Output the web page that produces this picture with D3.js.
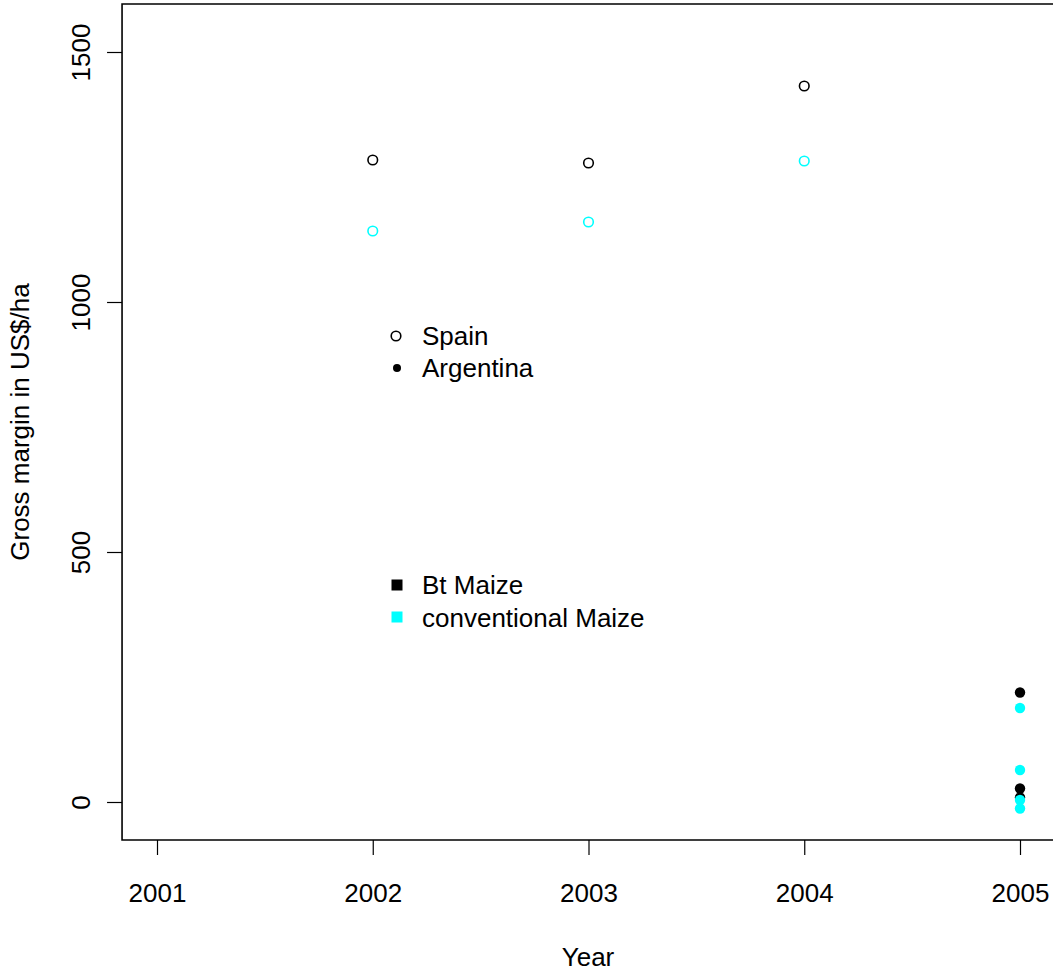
<!DOCTYPE html>
<html><head><meta charset="utf-8">
<script src="https://cdn.jsdelivr.net/npm/d3@7"></script>
<style>body{margin:0;background:#fff}svg{display:block}text{font-family:"Liberation Sans",Arial,sans-serif}</style>
</head><body><svg id="c" width="1053" height="972"></svg>
<script>
const years = [2001, 2002, 2003, 2004, 2005];
const yTicks = [0, 500, 1000, 1500];
// Spain (open circles)
const spainYears = [2002, 2003, 2004];
const spainBt = [1284, 1278, 1432];
const spainConv = [1142, 1160, 1282];
// Argentina (filled dots), all in 2005
const argYear = 2005;
const argBt = [219, 27, 9];
const argConv = [188, 64, 4, -13];
const legendCountries = ["Spain", "Argentina"];
const legendVarieties = ["Bt Maize", "conventional Maize"];
const colBt = "#000000", colConv = "#00FFFF";

const svg = d3.select("#c");
const x = d3.scaleLinear().domain([2001, 2005]).range([157, 1020]);
const xMin = 2000.838, xMax = 2005.2;
const y = d3.scaleLinear().domain([-76, 1596]).range([840, 4]);
const fs = "26px";

// box (right side falls outside the picture)
svg.append("path")
  .attr("d", `M${x(xMax)},${y.range()[1]}H${x(xMin)}V${y.range()[0]}H${x(xMax)}`)
  .attr("fill", "none").attr("stroke", "#000").attr("stroke-width", 1.6);

// x axis
const xa = svg.append("g").attr("transform", `translate(0,${y.range()[0]})`)
  .call(d3.axisBottom(x).tickValues(years).tickFormat(d3.format("d")).tickSize(15).tickPadding(29));
xa.select(".domain").remove();
xa.selectAll("line").attr("stroke", "#000").attr("stroke-width", 1.2);
xa.selectAll("text").attr("font-size", fs).attr("fill", "#000").attr("font-family", '"Liberation Sans",Arial,sans-serif');

// y axis
const ya = svg.append("g").attr("transform", `translate(${x(xMin)},0)`)
  .call(d3.axisLeft(y).tickValues(yTicks).tickSize(15).tickFormat(d3.format("d")));
ya.select(".domain").remove();
ya.selectAll("line").attr("stroke", "#000").attr("stroke-width", 1.2);
ya.selectAll("text").remove();
ya.selectAll(".tick").append("text")
  .attr("transform", "translate(-32,0) rotate(-90)")
  .attr("text-anchor", "middle").attr("font-size", fs).attr("fill", "#000")
  .attr("font-family", '"Liberation Sans",Arial,sans-serif')
  .text(d => d);

// axis titles
svg.append("text").attr("x", 588).attr("y", 966).attr("text-anchor", "middle")
  .attr("font-size", fs).text("Year");
svg.append("text").attr("transform", "translate(29,422) rotate(-90)").attr("text-anchor", "middle")
  .attr("font-size", fs).text("Gross margin in US$/ha");

// Spain points
const spain = [];
spainYears.forEach((yr, i) => {
  spain.push({yr, v: spainBt[i], c: colBt});
  spain.push({yr, v: spainConv[i], c: colConv});
});
svg.append("g").selectAll("circle").data(spain).join("circle")
  .attr("cx", d => x(d.yr)).attr("cy", d => y(d.v)).attr("r", 4.8)
  .attr("fill", "none").attr("stroke", d => d.c).attr("stroke-width", 1.6);

// Argentina points
const arg = argBt.map(v => ({v, c: colBt})).concat(argConv.map(v => ({v, c: colConv})));
svg.append("g").selectAll("circle").data(arg).join("circle")
  .attr("cx", x(argYear)).attr("cy", d => y(d.v)).attr("r", 5.2)
  .attr("fill", d => d.c);

// legend 1
const lg = svg.append("g");
lg.append("circle").attr("cx", 396).attr("cy", 336).attr("r", 4.8).attr("fill", "none")
  .attr("stroke", "#000").attr("stroke-width", 1.6);
lg.append("circle").attr("cx", 397).attr("cy", 368).attr("r", 4).attr("fill", "#000");
legendCountries.forEach((t, i) => {
  lg.append("text").attr("x", 422).attr("y", 345 + i * 32).attr("font-size", fs).text(t);
});
// legend 2
[colBt, colConv].forEach((c, i) => {
  lg.append("rect").attr("x", 391.5).attr("y", 579.5 + i * 32).attr("width", 11).attr("height", 11).attr("fill", c);
});
legendVarieties.forEach((t, i) => {
  lg.append("text").attr("x", 422).attr("y", 594 + i * 33).attr("font-size", fs).text(t);
});
</script></body></html>
